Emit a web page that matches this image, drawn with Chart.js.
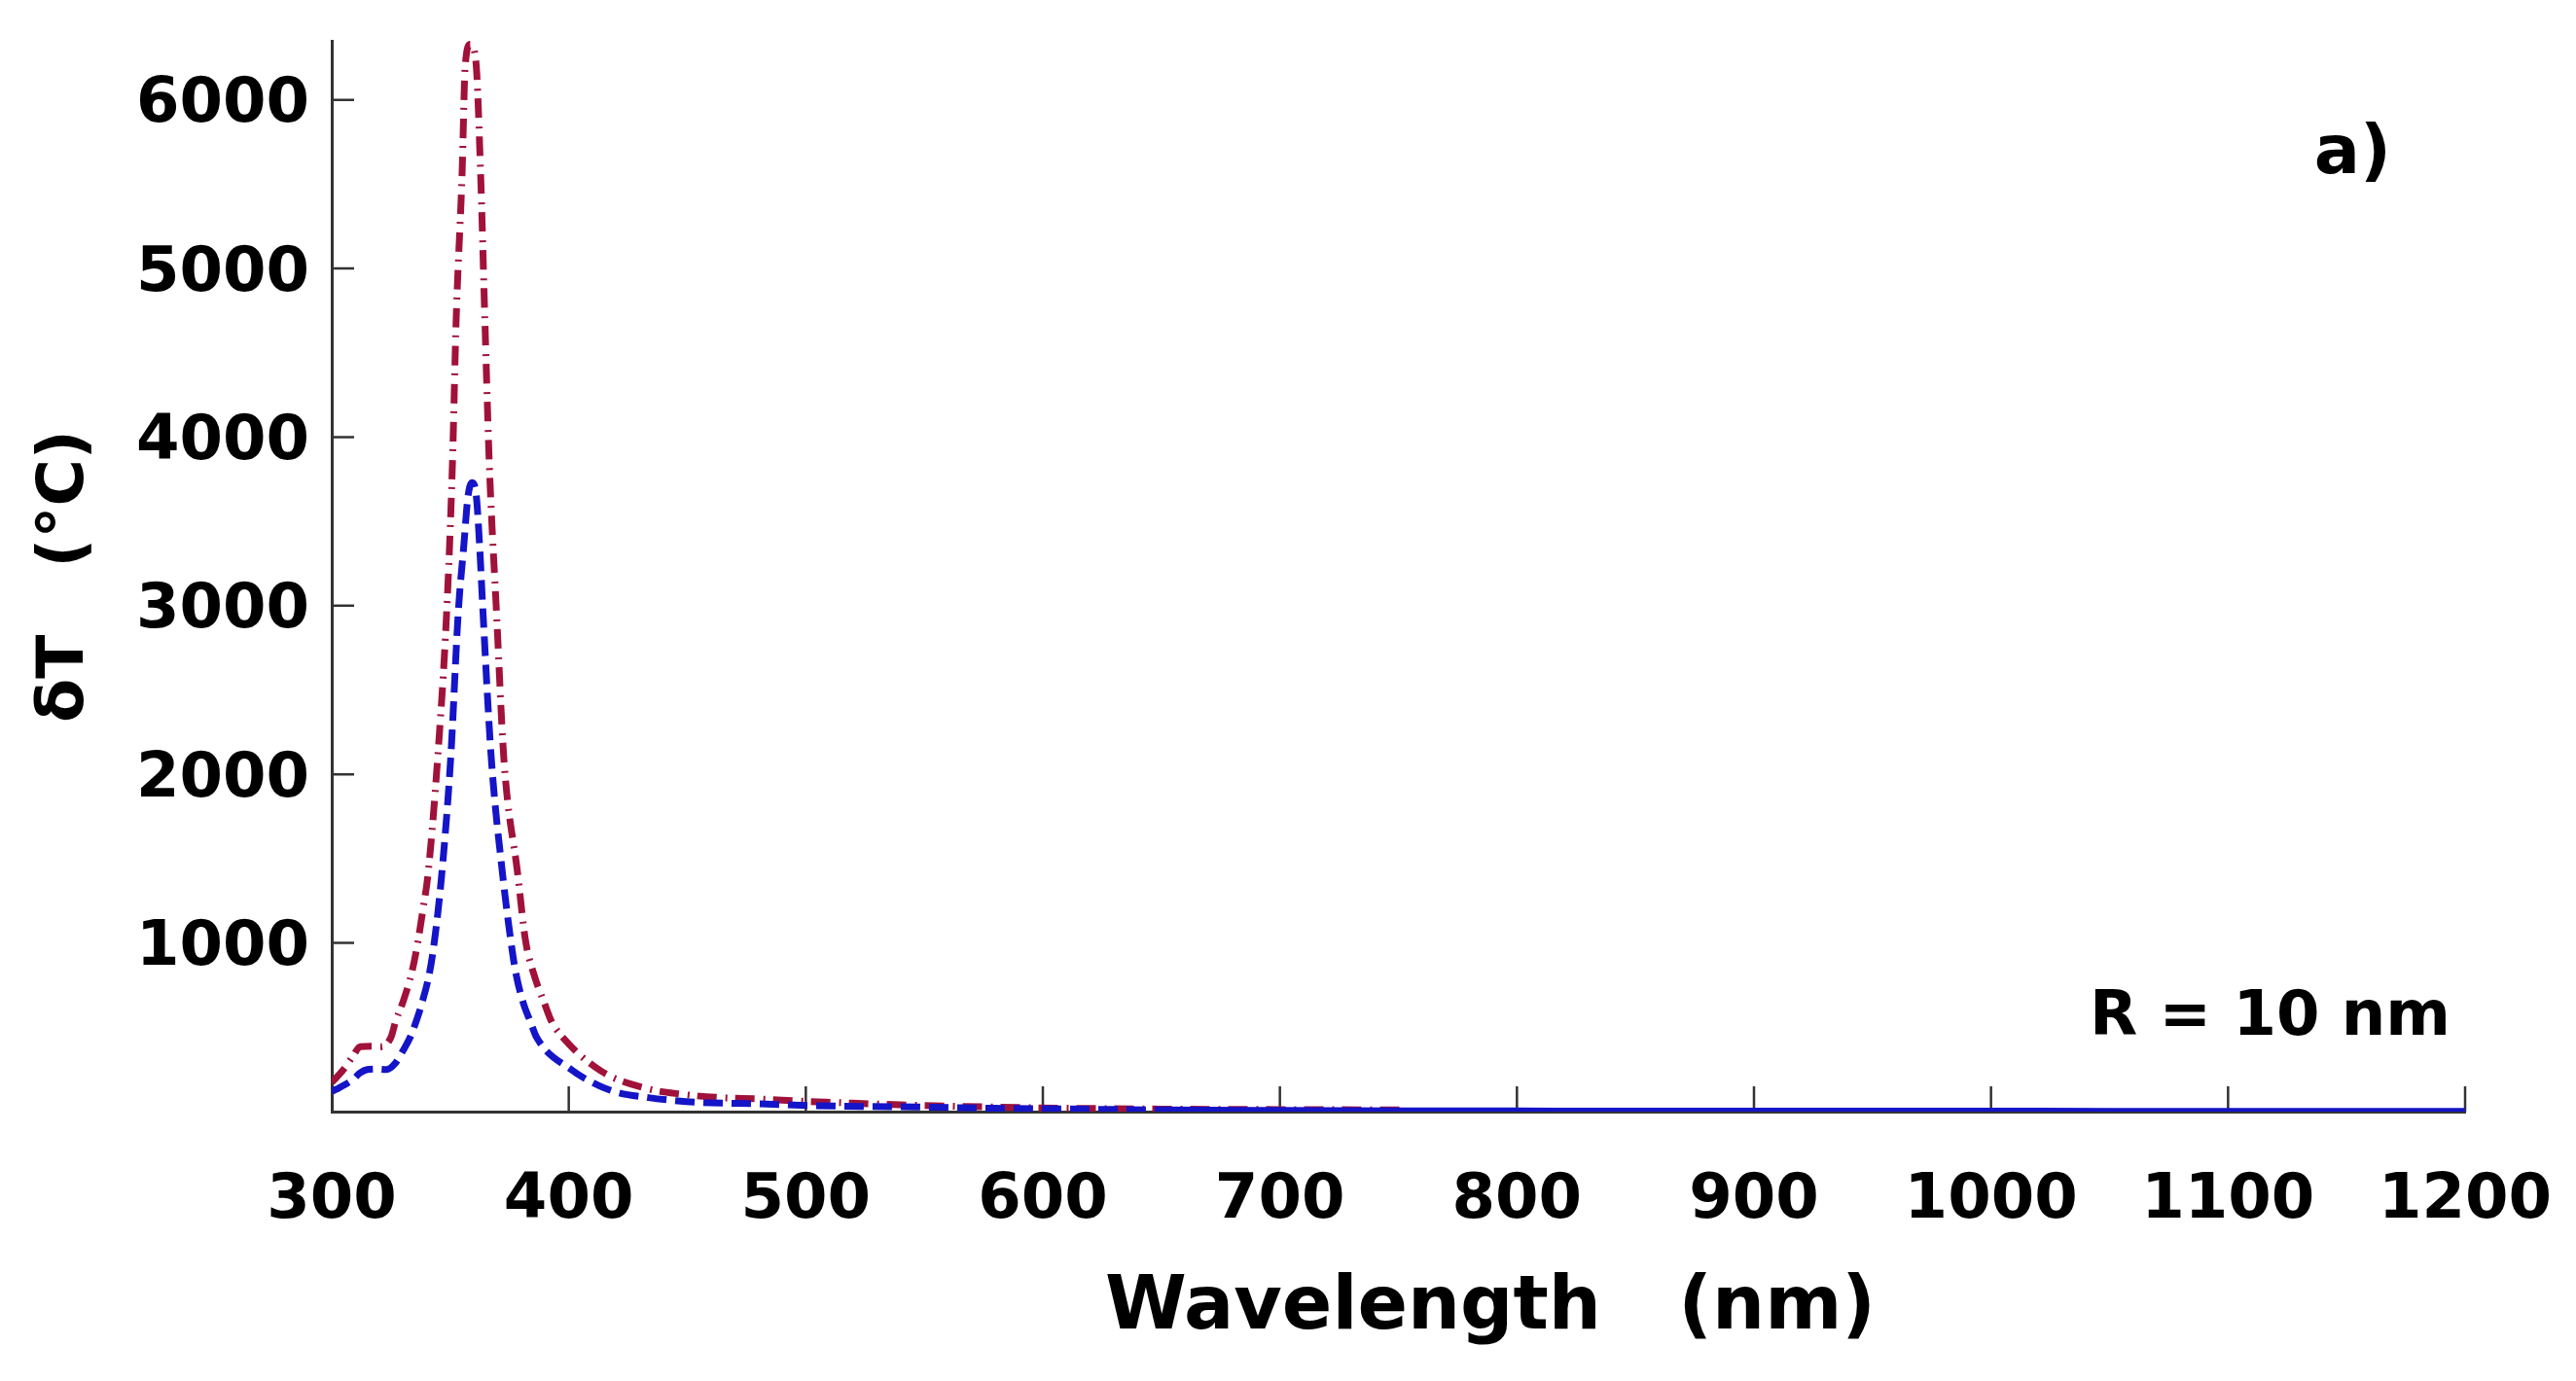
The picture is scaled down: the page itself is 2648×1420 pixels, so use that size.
<!DOCTYPE html>
<html>
<head>
<meta charset="utf-8">
<title>Wavelength plot</title>
<script src="https://cdn.jsdelivr.net/npm/chart.js@4.4.1/dist/chart.umd.min.js"></script>
<style>
  html, body { margin: 0; padding: 0; background: #fff; }
  canvas { display: block; }
</style>
</head>
<body>
<canvas id="grafica" width="2648" height="1420"></canvas>
<script>
// curva roja (raya-punto): longitudes de onda (nm) y valores
const redWavelengths = [300, 305, 309, 312, 317, 321, 325, 327, 329.7, 333.8, 336.5, 338.5, 340.6, 344.7, 348.5,
  350.9, 352.5, 355, 356.3, 358.5, 360.8, 362.8, 364.6, 366.5, 369.5, 372.6, 378.5, 381.7, 385, 389.9,
  392.6, 397.4, 413.7, 432, 447, 464, 480, 495, 513, 540, 575, 610, 650, 700, 752];
const redValues = [173, 250, 330, 385, 388, 385, 441, 538, 636, 827, 1019, 1200, 1405, 2098, 2965,
  3832, 4699, 5566, 6200, 6330, 6230, 5566, 4699, 3832, 2965, 2098, 1405, 1019, 827, 636,
  538, 441, 240, 140, 104, 83, 75, 64, 54, 40, 28, 20, 15, 12, 10];

// curva azul (rayas)
const blueWavelengths = [300, 302, 309, 312, 315, 319, 323, 327, 330, 333.1, 335.7, 337.9, 341.3, 343.4, 346.4,
  350.2, 353.4, 355.7, 357.5, 359.3, 361, 362.4, 363.8, 367.3, 372.1, 375.5, 377.6, 381, 383.7, 386.4,
  401, 413, 421, 433.6, 446, 456.8, 481, 503, 537, 580, 620, 650, 700, 750, 800, 850, 900, 950,
  1000, 1050, 1100, 1150, 1200];
const blueValues = [120, 133, 191, 230, 249, 252, 249, 290, 360, 441, 538, 636, 827, 1019, 1405,
  2098, 2965, 3353, 3650, 3730, 3650, 3353, 2965, 2098, 1405, 1019, 827, 636, 538, 441,
  249, 152, 112, 83, 64, 54, 46, 35, 29, 20, 14, 10, 7, 5, 4, 3, 3, 3,
  3, 2, 2, 2, 2];

const xTicks = [300, 400, 500, 600, 700, 800, 900, 1000, 1100, 1200];
const yTicks = [1000, 2000, 3000, 4000, 5000, 6000];

const toPoints = (xs, ys) => xs.map((w, i) => ({ x: w, y: ys[i] }));

const FONT = 'DejaVu Sans';
const BLUE_DASH = [20, 9];

const anotaciones = {
  id: 'anotaciones',
  beforeDatasetsDraw(chart) {
    const { ctx, chartArea, scales: { x, y } } = chart;
    ctx.save();
    ctx.strokeStyle = '#333';
    ctx.lineWidth = 2.5;
    ctx.beginPath();
    xTicks.forEach(v => {
      if (v === 300) return;
      const px = x.getPixelForValue(v);
      ctx.moveTo(px, chartArea.bottom);
      ctx.lineTo(px, chartArea.bottom - 26);
    });
    yTicks.forEach(v => {
      const py = y.getPixelForValue(v);
      ctx.moveTo(chartArea.left, py);
      ctx.lineTo(chartArea.left + 23, py);
    });
    ctx.stroke();
    ctx.restore();
  },
  afterDraw(chart) {
    const { ctx, chartArea } = chart;
    ctx.save();
    ctx.fillStyle = '#000';
    ctx.textBaseline = 'middle';
    ctx.textAlign = 'center';
    ctx.font = `bold 76px "${FONT}"`;
    ctx.fillText('Wavelength   (nm)', 1532, 1346);
    ctx.textAlign = 'right';
    ctx.font = `bold 70px "${FONT}"`;
    ctx.fillText('a)', chartArea.right - 76, 160);
    ctx.font = `bold 64px "${FONT}"`;
    ctx.fillText('R = 10 nm', chartArea.right - 15, 1047);
    ctx.restore();
  }
};

const ctx = document.getElementById('grafica').getContext('2d');
new Chart(ctx, {
  type: 'line',
  data: {
    datasets: [
      {
        label: 'azul',
        data: toPoints(blueWavelengths, blueValues),
        borderColor: '#1414c8',
        borderWidth: 7,
        borderDash: BLUE_DASH,
        segment: {
          // a partir de ~650 nm las rayas se funden en una línea continua
          borderDash: c => (c.p0.parsed.x >= 650 ? [] : BLUE_DASH)
        },
        pointRadius: 0,
        cubicInterpolationMode: 'monotone'
      },
      {
        label: 'roja',
        data: toPoints(redWavelengths, redValues),
        borderColor: '#a0123a',
        borderWidth: 7,
        borderDash: [20, 9, 2, 8],
        pointRadius: 0,
        cubicInterpolationMode: 'monotone'
      }
    ]
  },
  options: {
    responsive: false,
    animation: false,
    events: [],
    layout: { padding: { top: 42, right: 114, left: 0, bottom: 0 } },
    plugins: { legend: { display: false }, tooltip: { enabled: false } },
    scales: {
      x: {
        type: 'linear',
        min: 300,
        max: 1200,
        afterBuildTicks: s => { s.ticks = xTicks.map(v => ({ value: v })); },
        afterFit: s => { s.height = 277; s.paddingLeft = 0; s.paddingRight = 0; },
        grid: { display: false, drawTicks: false },
        border: { display: true, color: '#333', width: 3 },
        ticks: {
          padding: 54,
          color: '#000',
          maxRotation: 0,
          autoSkip: false,
          callback: v => String(v),
          font: { family: FONT, size: 64, weight: 'bold' }
        }
      },
      y: {
        type: 'linear',
        min: 0,
        max: 6350,
        afterBuildTicks: s => { s.ticks = yTicks.map(v => ({ value: v })); },
        afterFit: s => { s.width = 341; s.paddingTop = 0; s.paddingBottom = 0; },
        grid: { display: false, drawTicks: false },
        border: { display: true, color: '#333', width: 3 },
        ticks: {
          padding: 23,
          labelOffset: 6,
          color: '#000',
          callback: v => String(v),
          font: { family: FONT, size: 64, weight: 'bold' }
        },
        title: {
          display: true,
          text: 'δT   (°C)',
          color: '#000',
          padding: { top: 28, bottom: 0 },
          font: { family: FONT, size: 66, weight: 'bold' }
        }
      }
    }
  },
  plugins: [anotaciones]
});
</script>
</body>
</html>
